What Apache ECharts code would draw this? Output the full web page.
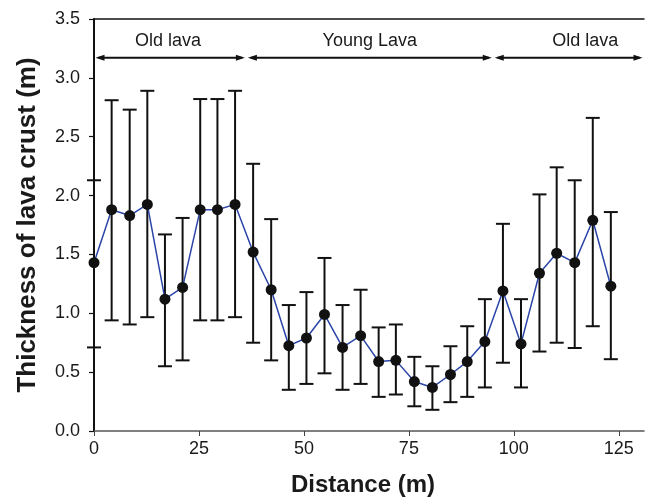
<!DOCTYPE html>
<html>
<head>
<meta charset="utf-8">
<script src="https://cdn.jsdelivr.net/npm/echarts@6/dist/echarts.min.js"></script>
<style>html,body{margin:0;padding:0;background:#fff}#c{width:647px;height:502px}</style>
</head>
<body>
<div id="c"></div>
<script>
var distances = [0,4.2,8.5,12.7,16.9,21.1,25.3,29.4,33.6,37.9,42.2,46.4,50.6,54.9,59.2,63.5,67.8,71.9,76.3,80.6,84.9,88.9,93.1,97.4,101.7,106.1,110.2,114.5,118.8,123.1];
var means = [1.43,1.88,1.83,1.925,1.12,1.22,1.88,1.88,1.925,1.52,1.20,0.725,0.79,0.99,0.71,0.81,0.59,0.60,0.42,0.37,0.48,0.59,0.76,1.19,0.74,1.34,1.51,1.43,1.79,1.23];
var upper = [2.13,2.81,2.73,2.89,1.67,1.81,2.82,2.82,2.89,2.27,1.80,1.07,1.18,1.47,1.07,1.20,0.88,0.905,0.63,0.55,0.72,0.89,1.12,1.76,1.12,2.01,2.24,2.13,2.66,1.86];
var lower = [0.71,0.94,0.905,0.967,0.55,0.60,0.94,0.94,0.967,0.75,0.60,0.35,0.40,0.49,0.35,0.40,0.29,0.31,0.21,0.18,0.245,0.29,0.37,0.58,0.37,0.675,0.75,0.705,0.89,0.61];
var regionLabels = ['Old lava','Young Lava','Old lava'];
var regionStart = [0,36.3,95.1];
var regionEnd = [36.3,95.1,131];
var regionLabelX = [17.6,65.7,117];
var arrowLevel = 3.17;
var textLevel = 3.31;
var xTicks = [0,25,50,75,100,125];

var chart = echarts.init(document.getElementById('c'));
var FONT = 'Liberation Sans, Arial, Helvetica, sans-serif';

var lineData = distances.map(function(d,i){return [d, means[i]];});
var errData = distances.map(function(d,i){return [d, lower[i], upper[i]];});
var regionData = regionLabels.map(function(l,i){return [regionStart[i], regionEnd[i], regionLabelX[i], arrowLevel, textLevel, l];});

chart.setOption({
  animation: false,
  backgroundColor: '#fff',
  grid: {left: 94, right: 3, top: 19, bottom: 68},
  xAxis: [{
    type: 'value', min: 0, max: 131, interval: 25,
    name: 'Distance (m)', nameLocation: 'middle', nameGap: 42,
    nameTextStyle: {fontFamily: FONT, fontSize: 24, fontWeight: 'bold', color: '#1a1a1a', padding: [0, 12, 0, 0]},
    axisLine: {show: true, onZero: false, lineStyle: {color: '#555', width: 1.5}},
    axisTick: {show: true, length: 5, customValues: xTicks, lineStyle: {color: '#444', width: 1}},
    axisLabel: {customValues: xTicks, fontFamily: FONT, fontSize: 18, color: '#1a1a1a', margin: 9},
    splitLine: {show: false}
  }, {
    type: 'value', position: 'top', min: 0, max: 131,
    axisLine: {show: true, onZero: false, lineStyle: {color: '#111', width: 1.5}},
    axisTick: {show: false}, axisLabel: {show: false}, splitLine: {show: false}
  }],
  yAxis: {
    type: 'value', min: 0, max: 3.5, interval: 0.5,
    name: 'Thickness of lava crust (m)', nameLocation: 'middle', nameGap: 53,
    nameTextStyle: {fontFamily: FONT, fontSize: 26, fontWeight: 'bold', color: '#1a1a1a'},
    axisLine: {show: true, onZero: false, lineStyle: {color: '#111', width: 2}},
    axisTick: {show: true, length: 5, lineStyle: {color: '#111', width: 1.2}},
    axisLabel: {fontFamily: FONT, fontSize: 18, color: '#1a1a1a', margin: 14,
      formatter: function(v){return v.toFixed(1);}},
    splitLine: {show: false}
  },
  series: [{
    type: 'custom',
    xAxisIndex: 0,
    data: errData,
    z: 2,
    renderItem: function(params, api){
      var x = api.value(0);
      var lo = api.coord([x, api.value(1)]);
      var hi = api.coord([x, api.value(2)]);
      var hw = 7;
      var st = {stroke: '#111', lineWidth: 2};
      return {type: 'group', children: [
        {type: 'line', shape: {x1: lo[0], y1: lo[1], x2: hi[0], y2: hi[1]}, style: st},
        {type: 'line', shape: {x1: lo[0]-hw, y1: lo[1], x2: lo[0]+hw, y2: lo[1]}, style: st},
        {type: 'line', shape: {x1: hi[0]-hw, y1: hi[1], x2: hi[0]+hw, y2: hi[1]}, style: st}
      ]};
    }
  }, {
    type: 'line',
    xAxisIndex: 0,
    data: lineData,
    z: 3,
    symbol: 'circle', symbolSize: 11,
    lineStyle: {color: '#2b44a8', width: 1.5},
    itemStyle: {color: '#111', borderWidth: 0}
  }, {
    type: 'custom',
    xAxisIndex: 0,
    data: regionData,
    z: 4,
    renderItem: function(params, api){
      var a = api.coord([api.value(0), api.value(3)]);
      var b = api.coord([api.value(1), api.value(3)]);
      var t = api.coord([api.value(2), api.value(4)]);
      var y = a[1];
      var x1 = a[0] + 1.5, x2 = b[0] - 1.5;
      var al = 9, ah = 3;
      return {type: 'group', children: [
        {type: 'line', shape: {x1: x1 + 3, y1: y, x2: x2 - 3, y2: y}, style: {stroke: '#111', lineWidth: 2}},
        {type: 'polygon', shape: {points: [[x1, y],[x1+al, y-ah],[x1+al, y+ah]]}, style: {fill: '#111'}},
        {type: 'polygon', shape: {points: [[x2, y],[x2-al, y-ah],[x2-al, y+ah]]}, style: {fill: '#111'}},
        {type: 'text', x: t[0], y: t[1], style: {text: api.value(5), fontFamily: FONT, fontSize: 18, fill: '#1a1a1a', align: 'center', verticalAlign: 'middle'}}
      ]};
    }
  }]
});
</script>
</body>
</html>
